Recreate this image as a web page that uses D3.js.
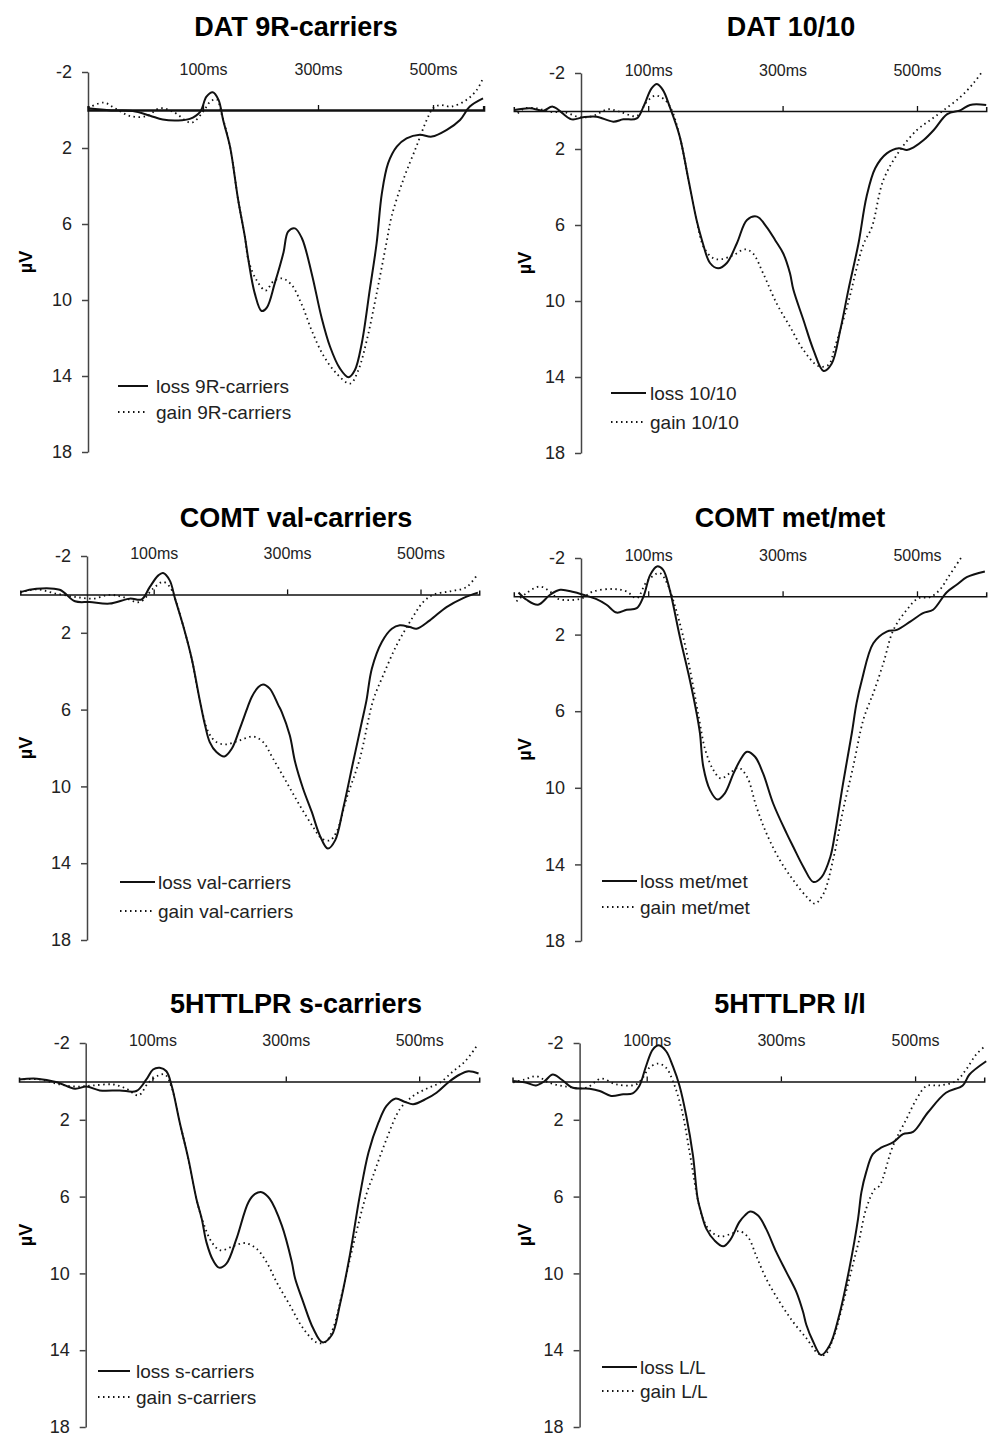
<!DOCTYPE html>
<html>
<head>
<meta charset="utf-8">
<script src="https://cdn.jsdelivr.net/npm/d3@7"></script>
<style>
  body { margin: 0; background: #fff; }
  svg { font-family: "Liberation Sans", Arial, sans-serif; }
  .title { font-weight: bold; font-size: 27px; }
  .ylab { font-weight: bold; font-size: 18px; }
  .yaxis text { font-size: 18px; fill: #222; }
  .xaxis text { font-size: 16px; fill: #222; }
  .legend text { font-size: 19px; fill: #222; }
</style>
</head>
<body>
<div id="chart"></div>
<script>
// Data: ERP waveforms, [ms, µV] (positive plotted downwards)
const titles = ["DAT 9R-carriers", "DAT 10/10", "COMT val-carriers", "COMT met/met", "5HTTLPR s-carriers", "5HTTLPR l/l"];
const lossLabels = ["loss 9R-carriers", "loss 10/10", "loss val-carriers", "loss met/met", "loss s-carriers", "loss L/L"];
const gainLabels = ["gain 9R-carriers", "gain 10/10", "gain val-carriers", "gain met/met", "gain s-carriers", "gain L/L"];
const msTicks = [100, 300, 500];
const uvTicks = [-2, 2, 6, 10, 14, 18];

const dat9r_loss = [[-100,-0.09],[-60,0.02],[-22,0.05],[8,0.3],[30,0.5],[55,0.55],[77,0.47],[95,0.1],[106,-0.7],[117,-0.93],[127,-0.53],[135,0.53],[147,1.93],[161,4.7],[173,6.7],[179,7.9],[190,9.65],[202,10.58],[211,10.4],[225,9.1],[240,7.5],[248,6.4],[260,6.23],[272,6.75],[289,8.6],[306,10.9],[321,12.46],[338,13.6],[353,14.07],[364,13.7],[376,12.3],[390,9.47],[402,7.0],[411,4.4],[422,2.8],[437,1.93],[454,1.49],[477,1.3],[498,1.4],[524,1.05],[547,0.53],[564,-0.18],[587,-0.61]];
const dat9r_gain = [[-100,-0.1],[-73,-0.39],[-53,-0.09],[-27,0.32],[2,0.32],[25,-0.09],[48,0.09],[80,0.67],[100,0.09],[113,-0.45],[124,-0.56],[132,0.18],[147,1.93],[161,4.7],[173,6.7],[179,7.9],[193,8.95],[209,9.5],[222,9.03],[237,8.86],[254,9.2],[272,10.26],[289,11.6],[309,12.9],[332,13.86],[356,14.4],[370,13.7],[385,12.1],[402,9.65],[419,7.0],[428,5.6],[448,3.7],[471,1.93],[489,0.53],[500,-0.09],[512,-0.26],[532,-0.18],[558,-0.53],[576,-1.05],[587,-1.67]];

const dat1010_loss = [[-99,-0.05],[-76,-0.14],[-56,-0.02],[-42,-0.23],[-14,0.44],[3,0.33],[23,0.3],[48,0.56],[63,0.44],[83,0.39],[93,-0.23],[105,-1.19],[113,-1.42],[122,-1.1],[132,-0.23],[147,1.35],[160,3.63],[172,5.74],[180,6.8],[192,8.0],[204,8.28],[217,8.0],[232,6.96],[247,5.74],[262,5.56],[276,6.1],[289,6.8],[301,7.5],[311,8.54],[316,9.4],[331,11.0],[346,12.58],[361,13.68],[373,13.3],[386,11.5],[398,9.4],[413,6.96],[425,4.5],[438,3.0],[455,2.23],[473,1.96],[485,2.05],[495,1.91],[510,1.53],[525,1.0],[545,0.16],[565,-0.05],[579,-0.32],[603,-0.32]];
const dat1010_gain = [[-94,0.12],[-84,-0.14],[-66,-0.14],[-46,0.04],[-22,0.09],[-2,0.33],[18,0.26],[40,-0.09],[58,0.04],[83,0.26],[98,-0.49],[111,-0.81],[125,-0.58],[135,-0.05],[147,1.35],[160,3.63],[172,5.74],[183,7.2],[197,7.75],[209,7.8],[227,7.58],[244,7.28],[256,7.5],[271,8.54],[291,10.12],[311,11.35],[331,12.58],[353,13.42],[368,13.37],[378,12.4],[396,10.3],[420,7.05],[433,6.1],[450,3.63],[475,2.05],[500,1.0],[520,0.47],[540,-0.05],[565,-0.75],[584,-1.46],[597,-2.07]];

const comtVal_loss = [[-100,-0.12],[-76,-0.3],[-41,-0.24],[-18,0.36],[4,0.4],[34,0.48],[64,0.22],[82,0.26],[94,-0.38],[107,-0.99],[114,-1.11],[124,-0.73],[132,0.22],[144,1.61],[157,3.35],[169,5.5],[177,6.82],[184,7.69],[194,8.21],[206,8.44],[217,8.04],[229,7.0],[241,5.86],[247,5.34],[257,4.82],[264,4.69],[274,4.91],[287,5.78],[292,6.13],[304,7.34],[312,8.73],[324,10.12],[337,11.33],[349,12.55],[361,13.24],[372,12.81],[384,11.16],[399,8.73],[412,6.65],[419,5.52],[427,3.87],[442,2.48],[457,1.79],[469,1.61],[484,1.7],[494,1.79],[514,1.35],[539,0.66],[564,0.19],[586,-0.09]];
const comtVal_gain = [[-100,-0.1],[-76,-0.26],[-46,-0.04],[-16,0.14],[9,0.22],[34,0.02],[54,0.14],[79,0.4],[99,-0.3],[114,-0.65],[124,-0.4],[132,0.22],[144,1.61],[157,3.35],[169,5.5],[182,7.17],[194,7.69],[209,7.81],[229,7.6],[249,7.4],[264,7.69],[279,8.56],[299,9.77],[319,10.99],[339,12.11],[352,12.72],[364,12.81],[374,12.38],[389,10.64],[409,8.56],[429,5.52],[444,4.22],[464,2.66],[484,1.44],[504,0.4],[519,0.02],[544,-0.16],[569,-0.38],[586,-1.08]];

const comtMet_loss = [[-93,-0.2],[-81,0.18],[-64,0.44],[-46,-0.08],[-31,-0.34],[-11,-0.22],[3,-0.08],[23,0.15],[38,0.44],[53,0.85],[68,0.7],[83,0.62],[93,0.01],[103,-1.12],[113,-1.56],[122,-1.39],[132,-0.34],[147,2.1],[162,4.37],[172,6.1],[177,7.15],[182,8.9],[192,10.12],[203,10.61],[214,10.29],[227,9.25],[237,8.55],[247,8.12],[259,8.38],[271,9.25],[286,10.82],[306,12.38],[316,13.09],[331,14.13],[346,14.92],[358,14.66],[371,13.61],[378,12.38],[390,9.77],[403,7.15],[410,5.59],[418,4.37],[435,2.45],[455,1.84],[470,1.75],[490,1.32],[509,0.88],[524,0.7],[544,-0.2],[559,-0.6],[574,-1.0],[601,-1.3]];
const comtMet_gain = [[-96,0.27],[-81,-0.17],[-61,-0.51],[-46,-0.25],[-34,0.13],[-1,0.13],[18,-0.25],[48,-0.38],[68,-0.25],[83,0.1],[98,-0.77],[117,-1.21],[128,-0.69],[137,0.18],[152,2.1],[167,4.72],[176,6.46],[185,8.03],[197,9.07],[208,9.51],[222,9.22],[234,8.95],[247,9.42],[261,10.99],[276,12.38],[296,13.78],[316,14.83],[336,15.7],[348,16.05],[361,15.52],[375,13.78],[390,11.17],[405,8.9],[420,6.46],[430,5.5],[435,5.06],[450,3.49],[465,1.75],[485,0.7],[502,0.1],[519,0.05],[534,-0.34],[547,-1.03],[567,-2.08]];

const httS_loss = [[-100,-0.1],[-73,-0.14],[-43,0.04],[-16,0.38],[1,0.27],[21,0.47],[51,0.47],[76,0.5],[91,-0.1],[101,-0.62],[111,-0.71],[121,-0.53],[129,0.24],[141,2.14],[154,4.05],[166,6.12],[174,7.16],[181,8.37],[191,9.32],[200,9.7],[211,9.49],[226,8.2],[244,6.29],[254,5.86],[264,5.77],[276,6.12],[294,7.5],[309,9.4],[314,10.27],[326,11.48],[341,12.86],[355,13.59],[369,13.21],[381,11.65],[396,9.06],[411,5.95],[424,3.7],[439,2.14],[451,1.28],[464,0.9],[479,1.07],[491,1.19],[511,0.9],[526,0.59],[544,0.04],[561,-0.36],[574,-0.53],[589,-0.41]];
const httS_gain = [[-100,-0.1],[-69,-0.1],[-39,0.16],[-13,0.27],[11,0.21],[41,0.16],[61,0.38],[79,0.73],[94,0.07],[109,-0.31],[119,-0.36],[129,0.33],[141,2.14],[154,4.05],[166,6.12],[176,7.33],[189,8.37],[202,8.8],[221,8.58],[239,8.42],[256,8.71],[271,9.4],[286,10.44],[306,11.65],[326,12.86],[346,13.59],[359,13.59],[371,12.86],[386,10.79],[401,8.54],[421,5.86],[431,4.91],[451,3.01],[471,1.45],[491,0.76],[511,0.38],[531,0.07],[551,-0.53],[569,-1.05],[586,-1.83]];

const httL_loss = [[-99,-0.02],[-79,0.07],[-65,0.21],[-52,-0.02],[-40,-0.36],[-27,-0.1],[-10,0.33],[15,0.38],[30,0.5],[47,0.76],[65,0.67],[79,0.62],[89,0.24],[99,-0.79],[109,-1.66],[118,-1.88],[129,-1.57],[139,-0.79],[149,0.24],[159,1.8],[169,3.87],[176,6.12],[181,6.81],[189,7.68],[201,8.28],[214,8.59],[224,8.28],[238,7.33],[246,6.99],[254,6.78],[266,6.99],[278,7.68],[293,8.88],[308,9.92],[323,10.96],[333,12.0],[338,12.69],[348,13.55],[360,14.25],[373,13.73],[387,12.17],[402,9.75],[415,7.16],[420,5.77],[427,4.74],[437,3.79],[450,3.44],[467,3.18],[482,2.75],[497,2.63],[519,1.62],[546,0.59],[571,0.21],[581,-0.36],[606,-1.05]];
const httL_gain = [[-99,0.05],[-82,-0.1],[-65,-0.27],[-45,0.07],[-20,0.27],[10,0.33],[32,-0.14],[55,0.16],[84,0.16],[94,-0.19],[104,-0.71],[117,-0.93],[129,-0.71],[139,-0.02],[152,1.45],[164,3.7],[176,6.12],[184,7.16],[194,7.76],[209,8.07],[226,7.94],[238,7.8],[251,8.11],[263,9.06],[278,10.27],[298,11.48],[318,12.52],[338,13.38],[355,14.16],[365,14.25],[378,13.38],[392,11.65],[407,9.58],[417,8.2],[427,6.64],[440,5.6],[447,5.43],[467,3.36],[487,1.97],[502,0.93],[517,0.24],[537,0.21],[561,-0.02],[576,-0.62],[591,-1.4],[604,-1.83]];

const lossSeries = [dat9r_loss, dat1010_loss, comtVal_loss, comtMet_loss, httS_loss, httL_loss];
const gainSeries = [dat9r_gain, dat1010_gain, comtVal_gain, comtMet_gain, httS_gain, httL_gain];

// panel geometry (pixels)
const panels = [
  { msDom: [-100, 588], xr: [88, 483.6], axisMs: -100, yr: [72, 452], cx: 296, titleY: 36, labX: 26, leg: [118, 148, 156, 386, 412], zeroW: 2.4 },
  { msDom: [-100, 603], xr: [513.8, 986.2], axisMs: 0, yr: [73, 453], cx: 791, titleY: 36, labX: 525, leg: [611, 646, 650, 393, 422], zeroW: 1.5 },
  { msDom: [-100, 588], xr: [20.3, 479.2], axisMs: 0, yr: [556, 940], cx: 296, titleY: 527, labX: 26, leg: [120, 155, 158, 882, 911], zeroW: 1.5 },
  { msDom: [-100, 603], xr: [513.8, 986.2], axisMs: 0, yr: [558, 941], cx: 790, titleY: 527, labX: 525, leg: [602, 637, 640, 881, 907], zeroW: 1.5 },
  { msDom: [-100, 590], xr: [19, 479.2], axisMs: 0, yr: [1043, 1427], cx: 296, titleY: 1013, labX: 26, leg: [98, 130, 136, 1371, 1397], zeroW: 1.5 },
  { msDom: [-100, 603], xr: [512.5, 984.2], axisMs: 0, yr: [1043, 1427], cx: 790, titleY: 1013, labX: 525, leg: [602, 637, 640, 1367, 1391], zeroW: 1.5 }
];

const W = 990, H = 1437;
const svg = d3.select("#chart").append("svg")
  .attr("width", W)
  .attr("height", H);

const dotted = "1.5,3.5";

panels.forEach(function (p, i) {
  const g = svg.append("g");

  const x = d3.scaleLinear().domain(p.msDom).range(p.xr);
  const y = d3.scaleLinear().domain([-2, 18]).range(p.yr);

  // title
  g.append("text")
    .attr("class", "title")
    .attr("x", p.cx)
    .attr("y", p.titleY)
    .attr("text-anchor", "middle")
    .text(titles[i]);

  // y axis
  const yAxis = g.append("g")
    .attr("class", "yaxis")
    .attr("transform", "translate(" + x(p.axisMs) + ",0)")
    .call(d3.axisLeft(y).tickValues(uvTicks).tickSize(6).tickSizeOuter(0).tickPadding(10)
      .tickFormat(d => String(d)));
  yAxis.selectAll("path, line").attr("stroke", "#444").attr("stroke-width", 1.5);

  // µV label
  g.append("text")
    .attr("class", "ylab")
    .attr("transform", "translate(" + p.labX + "," + (p.yr[0] + p.yr[1]) / 2 + ") rotate(-90)")
    .attr("text-anchor", "middle")
    .attr("dy", "0.35em")
    .text("µV");

  // x axis along zero line, labels above
  const xAxis = g.append("g")
    .attr("class", "xaxis")
    .attr("transform", "translate(0," + y(0) + ")")
    .call(d3.axisTop(x).tickValues(msTicks).tickSize(5).tickSizeOuter(4).tickPadding(30)
      .tickFormat(d => d + "ms"));
  xAxis.select(".domain").attr("stroke", "#111").attr("stroke-width", p.zeroW);
  xAxis.selectAll(".tick line").attr("stroke", "#111").attr("stroke-width", 1.3);

  const line = d3.line()
    .x(d => x(d[0]))
    .y(d => y(d[1]))
    .curve(d3.curveCatmullRom.alpha(0.5));

  g.append("path")
    .datum(gainSeries[i])
    .attr("fill", "none")
    .attr("stroke", "#111")
    .attr("stroke-width", 1.8)
    .attr("stroke-dasharray", dotted)
    .attr("d", line);

  g.append("path")
    .datum(lossSeries[i])
    .attr("fill", "none")
    .attr("stroke", "#111")
    .attr("stroke-width", 2)
    .attr("d", line);

  // legend
  const L = p.leg;
  const lg = g.append("g").attr("class", "legend");
  lg.append("line").attr("x1", L[0]).attr("x2", L[1]).attr("y1", L[3]).attr("y2", L[3])
    .attr("stroke", "#111").attr("stroke-width", 2);
  lg.append("text").attr("x", L[2]).attr("y", L[3]).attr("dy", "0.35em").text(lossLabels[i]);
  lg.append("line").attr("x1", L[0]).attr("x2", L[1]).attr("y1", L[4]).attr("y2", L[4])
    .attr("stroke", "#111").attr("stroke-width", 1.8).attr("stroke-dasharray", dotted);
  lg.append("text").attr("x", L[2]).attr("y", L[4]).attr("dy", "0.35em").text(gainLabels[i]);
});
</script>
</body>
</html>
